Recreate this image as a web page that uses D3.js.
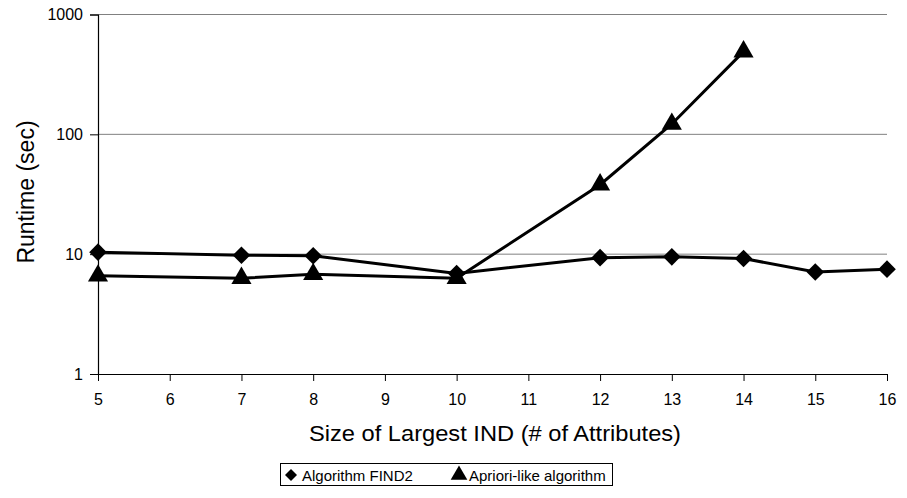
<!DOCTYPE html>
<html><head><meta charset="utf-8">
<script src="https://cdn.jsdelivr.net/npm/d3@7"></script>
<style>body{margin:0;background:#fff}svg{display:block;font-family:"Liberation Sans",Arial,sans-serif}</style>
</head><body>
<svg id="c" width="907" height="498"></svg>
<script>
const sizes = [5, 7, 8, 10, 12, 13, 14, 15, 16];
const find2 = [10.4, 9.8, 9.7, 6.9, 9.35, 9.5, 9.2, 7.1, 7.5];
const aprioriSizes = [5, 7, 8, 10, 12, 13, 14];
const apriori = [6.6, 6.3, 6.8, 6.3, 38, 122, 490];
const xTicks = [5,6,7,8,9,10,11,12,13,14,15,16];
const yTicks = [1, 10, 100, 1000];
const seriesNames = ["Algorithm FIND2", "Apriori-like algorithm"];

const svg = d3.select("#c");
const L = 98, R = 887, T = 14.5, B = 374;
const x = d3.scaleLinear().domain([5,16]).range([L,R]);
const y = d3.scaleLog().domain([1,1000]).range([B,T]);
const FF = "Liberation Sans, Arial, sans-serif";

// gridlines
svg.append("g").selectAll("line").data(yTicks.filter(d=>d>1)).join("line")
  .attr("x1",L).attr("x2",R).attr("y1",d=>y(d)).attr("y2",d=>y(d))
  .attr("stroke","#808080").attr("stroke-width",1);

// y axis
const ya = svg.append("g").attr("transform",`translate(${L},0)`)
  .call(d3.axisLeft(y).tickValues(yTicks).tickFormat(d3.format("d")).tickSize(8).tickPadding(7));
ya.select(".domain").attr("stroke","#000").attr("stroke-width",1.2);
ya.selectAll(".tick line").attr("stroke","#000");
ya.selectAll("text").attr("font-size",16).attr("font-family",FF).attr("fill","#000");

// x axis
const xa = svg.append("g").attr("transform",`translate(0,${B})`)
  .call(d3.axisBottom(x).tickValues(xTicks).tickFormat(d3.format("d")).tickSize(7).tickSizeOuter(0).tickPadding(13));
xa.select(".domain").attr("stroke","#000").attr("stroke-width",1.2);
xa.selectAll(".tick line").attr("stroke","#000");
xa.selectAll("text").attr("font-size",16).attr("font-family",FF).attr("fill","#000");

// titles
svg.append("text").attr("x",495).attr("y",441).attr("text-anchor","middle")
  .attr("font-size",22).attr("textLength",372).attr("lengthAdjust","spacingAndGlyphs")
  .text("Size of Largest IND (# of Attributes)");
svg.append("text").attr("transform",`translate(34,192) rotate(-90)`).attr("text-anchor","middle")
  .attr("font-size",23).text("Runtime (sec)");

const line = d3.line().x(d=>x(d[0])).y(d=>y(d[1]));
const d1 = sizes.map((s,i)=>[s,find2[i]]);
const d2 = aprioriSizes.map((s,i)=>[s,apriori[i]]);

svg.append("path").datum(d2).attr("d",line).attr("fill","none").attr("stroke","#000").attr("stroke-width",3);
svg.append("path").datum(d1).attr("d",line).attr("fill","none").attr("stroke","#000").attr("stroke-width",3);

const diamond = d3.symbol().type(d3.symbolSquare).size(155);
const tri = d3.symbol().type(d3.symbolTriangle).size(175);

svg.append("g").selectAll("path").data(d2).join("path")
  .attr("d",tri).attr("transform",d=>`translate(${x(d[0])},${y(d[1])})`).attr("fill","#000");
svg.append("g").selectAll("path").data(d1).join("path")
  .attr("d",diamond).attr("transform",d=>`translate(${x(d[0])},${y(d[1])}) rotate(45)`).attr("fill","#000");

// legend
const lg = svg.append("g");
lg.append("rect").attr("x",280.5).attr("y",463.5).attr("width",332).attr("height",22)
  .attr("fill","#fff").attr("stroke","#000").attr("stroke-width",1);
lg.append("path").attr("d",d3.symbol().type(d3.symbolSquare).size(72)).attr("transform","translate(291,475) rotate(45)").attr("fill","#000");
lg.append("text").attr("x",302).attr("y",480.5).attr("font-size",15).text(seriesNames[0]);
lg.append("path").attr("d",d3.symbol().type(d3.symbolTriangle).size(120)).attr("transform","translate(459,475)").attr("fill","#000");
lg.append("text").attr("x",469).attr("y",480.5).attr("font-size",15).text(seriesNames[1]);
</script>
</body></html>
